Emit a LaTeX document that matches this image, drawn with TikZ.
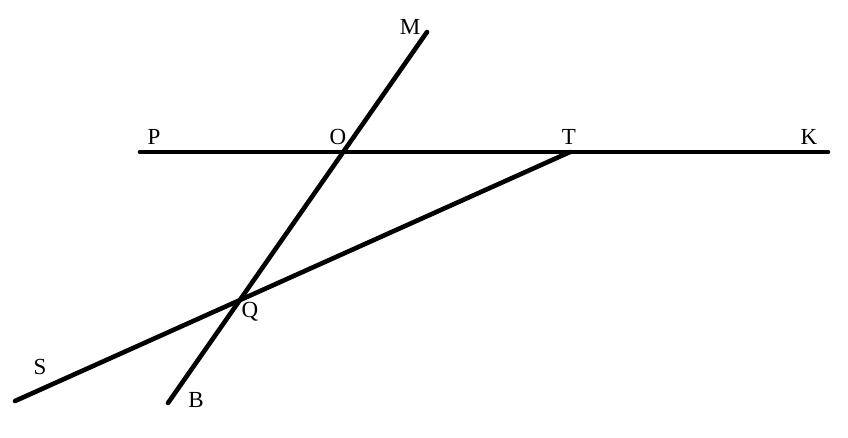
\documentclass[tikz,border=0pt]{standalone}
\usepackage{fontspec}
\setmainfont{Liberation Serif}
\begin{document}
\begin{tikzpicture}[x=1pt,y=-1pt,
  seg/.style={line width=4.6pt,line cap=round},
  lbl/.style={font=\fontsize{23}{23}\selectfont,inner sep=0pt,anchor=center}]
\useasboundingbox (0,0) rectangle (848,437);
\coordinate (P) at (140,152);
\coordinate (K) at (828,152);
\coordinate (M) at (427,32);
\coordinate (B) at (168,403);
\coordinate (S) at (15,401);
\coordinate (T) at (570,152);
\coordinate (O) at (intersection of M--B and P--K);
\coordinate (Q) at (intersection of M--B and S--T);
\draw[seg] (P) -- (K);
\draw[seg] (M) -- (B);
\draw[seg] (S) -- (T);
\node[lbl] (lP) at (154,137) {P};
\node[lbl] (lO) at (338,137) {O};
\node[lbl] (lT) at (569,137) {T};
\node[lbl] (lK) at (809,137) {K};
\node[lbl] (lM) at (410,27) {M};
\node[lbl] (lQ) at (250,312) {Q};
\node[lbl] (lS) at (40,367) {S};
\node[lbl] (lB) at (196,400) {B};
\end{tikzpicture}
\end{document}
